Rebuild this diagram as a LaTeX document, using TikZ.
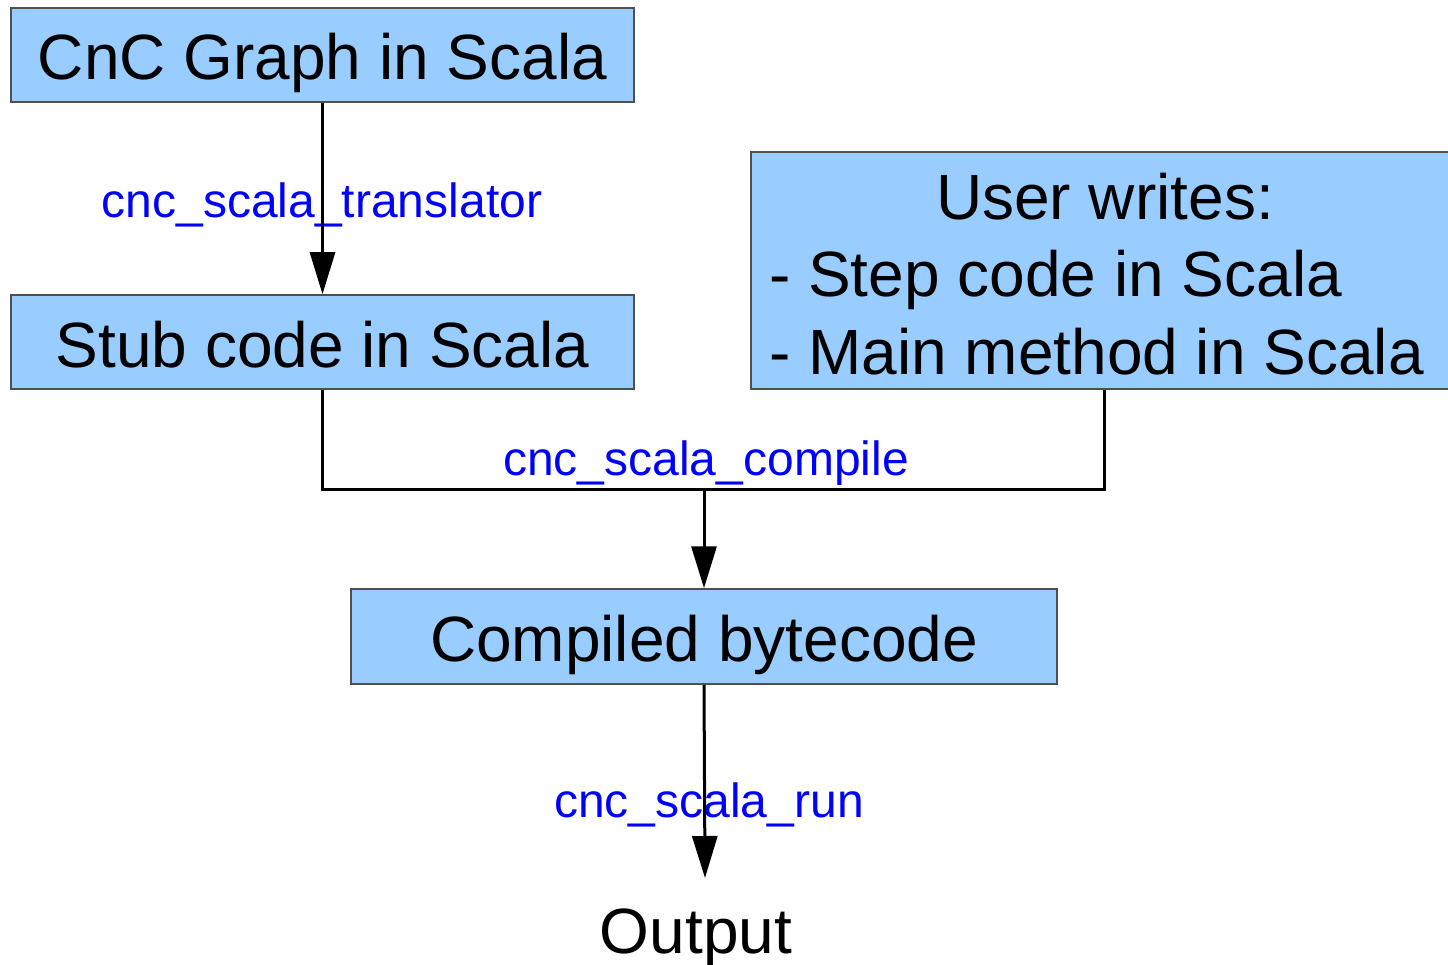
\documentclass[tikz,border=0pt]{standalone}
\usepackage{fontspec}
\setmainfont{Liberation Sans}
\usetikzlibrary{arrows.meta}
\definecolor{boxfill}{HTML}{99CCFF}
\definecolor{boxline}{HTML}{505050}
\definecolor{lblblue}{HTML}{0000FF}
\tikzset{
  stagebox/.style={draw=boxline, line width=1.5pt, fill=boxfill, inner sep=0pt,
    font=\fontsize{64}{76}\selectfont, text height=50pt, text depth=0pt},
  bigtext/.style={inner sep=0pt, font=\fontsize{64}{76}\selectfont, anchor=base},
  lbl/.style={inner sep=0pt, text=lblblue, font=\fontsize{48}{56}\selectfont, anchor=base},
  conn/.style={line width=3pt, draw=black},
  arr/.style={conn, -{Triangle[length=42pt, width=25pt]}}
}
\begin{document}
\begin{tikzpicture}[x=1pt, y=-1pt]
\useasboundingbox (0,0) rectangle (1448,965);
\clip (0,0) rectangle (1448,965);
% boxes
\node[stagebox, minimum width=623pt, minimum height=94pt] (A) at (322.5,55) {CnC Graph in Scala};
\node[stagebox, minimum width=623pt, minimum height=94pt] (B) at (322.5,342) {Stub code in Scala};
\node[stagebox, minimum width=707pt, minimum height=237pt] (C) at (1104.5,270.5) {};
\node[bigtext] (c1) at (1105,220) {User writes:};
\node[bigtext, anchor=base west] (c2) at (769,297) {- Step code in Scala};
\node[bigtext, anchor=base west] (c3) at (769,374) {- Main method in Scala};
\node[stagebox, minimum width=706pt, minimum height=95pt] (D) at (704,636.5) {Compiled bytecode};
\node[bigtext] (out) at (696,953) {Output};
% labels
\node[lbl] (l1) at (322,218) {cnc\_scala\_translator};
\node[lbl] (l2) at (706,475) {cnc\_scala\_compile};
\node[lbl] (l3) at (709,817) {cnc\_scala\_run};
% connectors
\coordinate (j) at (704,489);
\coordinate (tip) at (705,878);
\draw[arr] (A.south) -- (B.north);
\draw[conn] (B.south) |- (j) -| (C.south);
\draw[arr] (j) -- (D.north);
\draw[arr] (D.south) -- (tip);
\end{tikzpicture}
\end{document}
